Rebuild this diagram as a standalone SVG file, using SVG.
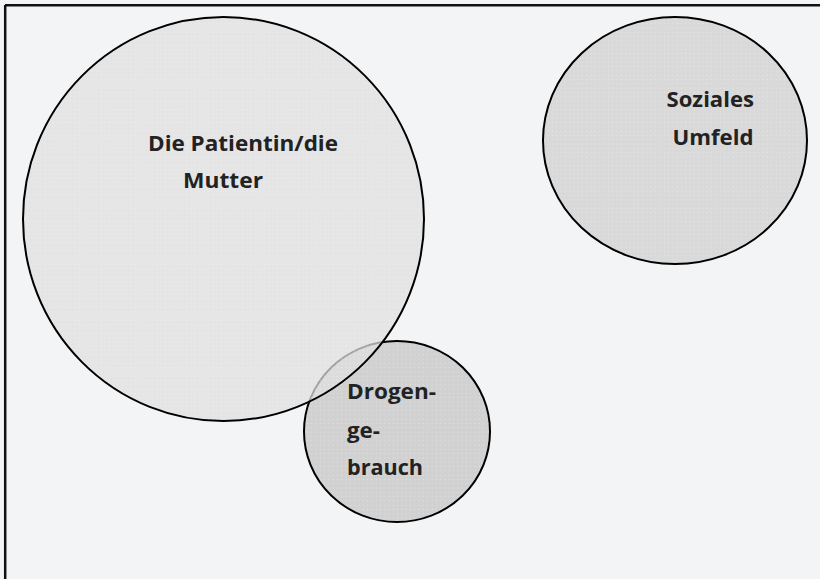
<svg xmlns="http://www.w3.org/2000/svg" width="820" height="579" viewBox="0 0 820 579">
<style>
  .lbl { font-family: "Open Sans", "Noto Sans", "Liberation Sans", sans-serif; font-weight: 700; font-size: 21.5px; fill: #222222; }
  .outline { stroke: #000000; stroke-width: 2; }
  .dots { fill: url(#dots); stroke: none; }
</style>
<defs>
  <pattern id="dots" width="4.3" height="4.3" patternUnits="userSpaceOnUse">
    <circle cx="2" cy="2" r="0.6" fill="#ffffff" fill-opacity="0.45"/>
  </pattern>
</defs>
<rect x="0" y="0" width="820" height="579" fill="#f3f4f6"/>
<g id="frame" stroke="#111111" stroke-width="2.5" fill="none">
  <line x1="5" y1="5.2" x2="820" y2="5.2"/>
  <line x1="5.2" y1="5" x2="5.2" y2="579"/>
</g>
<g id="connectors"/>
<g id="node-drogengebrauch">
  <ellipse cx="397" cy="431.5" rx="93" ry="90.5" fill="#d1d1d1" class="outline"/>
  <ellipse cx="397" cy="431.5" rx="92" ry="89.5" class="dots"/>
</g>
<g id="node-patientin">
  <ellipse cx="223.5" cy="219" rx="200.5" ry="202" fill="#e0e0e0" fill-opacity="0.73" class="outline"/>
  <ellipse cx="223.5" cy="219" rx="199.5" ry="201" class="dots"/>
  <text class="lbl" x="148" y="151" textLength="190" lengthAdjust="spacingAndGlyphs">Die Patientin/die</text>
  <text class="lbl" x="183" y="188" textLength="80" lengthAdjust="spacingAndGlyphs">Mutter</text>
</g>
<g id="node-drogengebrauch-label">
  <text class="lbl" x="347" y="399" textLength="89" lengthAdjust="spacingAndGlyphs">Drogen-</text>
  <text class="lbl" x="347" y="438" textLength="33" lengthAdjust="spacingAndGlyphs">ge-</text>
  <text class="lbl" x="347" y="475" textLength="76" lengthAdjust="spacingAndGlyphs">brauch</text>
</g>
<g id="node-soziales-umfeld">
  <ellipse cx="675" cy="140.5" rx="132" ry="123.5" fill="#d9d9d9" class="outline"/>
  <ellipse cx="675" cy="140.5" rx="131" ry="122.5" class="dots"/>
  <text class="lbl" x="666.5" y="107" textLength="87.5" lengthAdjust="spacingAndGlyphs">Soziales</text>
  <text class="lbl" x="672.5" y="145" textLength="81" lengthAdjust="spacingAndGlyphs">Umfeld</text>
</g>
</svg>
